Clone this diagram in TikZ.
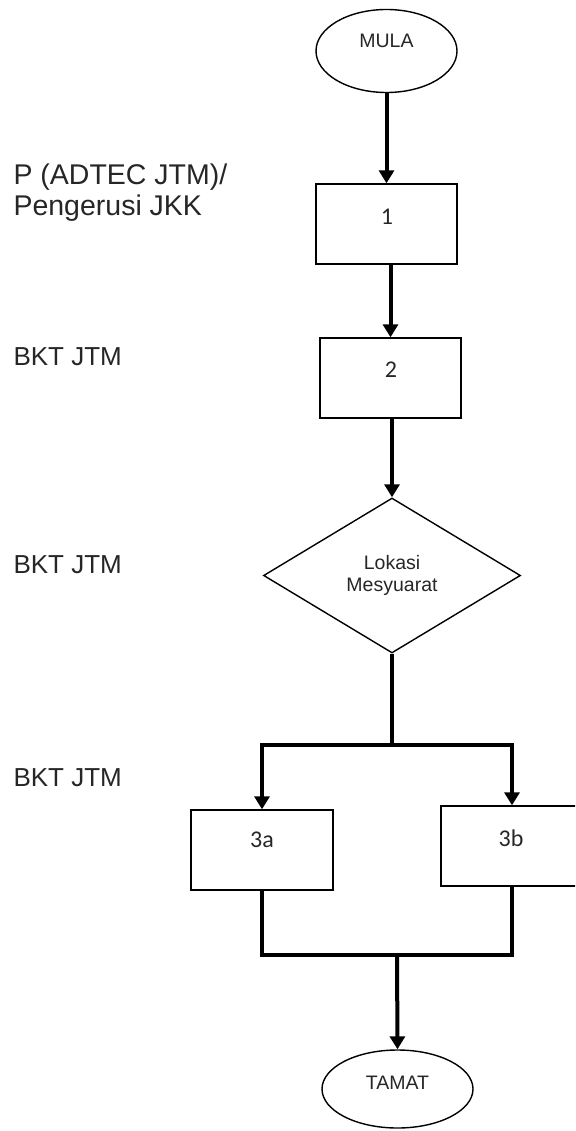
\documentclass[tikz,border=0pt]{standalone}
\usepackage{fontspec}
\setmainfont{Liberation Sans}
\newfontfamily\boxfont{Carlito}
\usetikzlibrary{shapes.geometric,arrows.meta}
\begin{document}
\begin{tikzpicture}[x=1pt,y=-1pt,
  outline/.style={draw=black,line width=1.4pt},
  terminal/.style={outline,ellipse,inner sep=0pt},
  process/.style={outline,rectangle,inner sep=0pt},
  decision/.style={outline,diamond,inner sep=0pt},
  shapetext/.style={font=\fontsize{19.5}{22}\selectfont,align=center,text=black!85},
  boxtext/.style={font=\boxfont\fontsize{24}{26}\selectfont,text=black!85},
  role/.style={anchor=west,align=left,text=black!85},
  flow/.style={line width=4pt,line join=miter},
  flowarrow/.style={flow,-{Triangle[width=15pt,length=13pt]}}]
\useasboundingbox (0,0) rectangle (575,1131);
\begin{scope}
\clip (0,0) rectangle (575,1131);

% roles in the left column
\node[role,font=\fontsize{28.5}{31}\selectfont] (r1) at (10,193) {P (ADTEC JTM)/\\Pengerusi JKK};
\node[role,font=\fontsize{26}{30}\selectfont] (r2) at (10,357) {BKT JTM};
\node[role,font=\fontsize{26}{30}\selectfont] (r3) at (10,565) {BKT JTM};
\node[role,font=\fontsize{26}{30}\selectfont] (r4) at (10,778) {BKT JTM};

% flow shapes
\node[terminal,minimum width=141pt,minimum height=83pt] (mula) at (386.5,51) {};
\node[shapetext] (mulatext) at (386.5,41) {MULA};

\node[process,minimum width=141pt,minimum height=80pt] (b1) at (386.5,224) {};
\node[boxtext] (b1text) at (387,217) {1};

\node[process,minimum width=141pt,minimum height=80pt] (b2) at (390.5,378) {};
\node[boxtext] (b2text) at (391,370) {2};

\node[decision,minimum width=257pt,minimum height=155pt] (dia) at (392,575.5) {};
\node[shapetext] (diatext) at (392,575.5) {Lokasi\\Mesyuarat};

\node[process,minimum width=142pt,minimum height=80pt] (b3a) at (262,850) {};
\node[boxtext] (b3atext) at (262,840) {3a};

\node[process,minimum width=142pt,minimum height=80pt] (b3b) at (512,846) {};
\node[boxtext] (b3btext) at (511,838) {3b};

\node[terminal,minimum width=151pt,minimum height=78pt] (tamat) at (397.5,1089) {};
\node[shapetext] (tamattext) at (397.5,1083) {TAMAT};

% branching and merging points
\coordinate (split) at (392,745);
\coordinate (merge) at (397,955);

% connectors
\draw[flowarrow] (mula.south) -- (b1.north);
\draw[flowarrow] (b2.north |- b1.south) -- (b2.north);
\draw[flowarrow] (dia.north |- b2.south) -- (dia.north);
\draw[flow] (dia.south) -- (split);
\draw[flowarrow] (split) -| (b3a.north);
\draw[flowarrow] (split) -| (b3b.north);
\draw[flow] (b3a.south) |- (merge);
\draw[flow] (b3b.south) |- (merge);
\draw[flowarrow] (merge) -- (tamat.north);
\end{scope}
\end{tikzpicture}
\end{document}
